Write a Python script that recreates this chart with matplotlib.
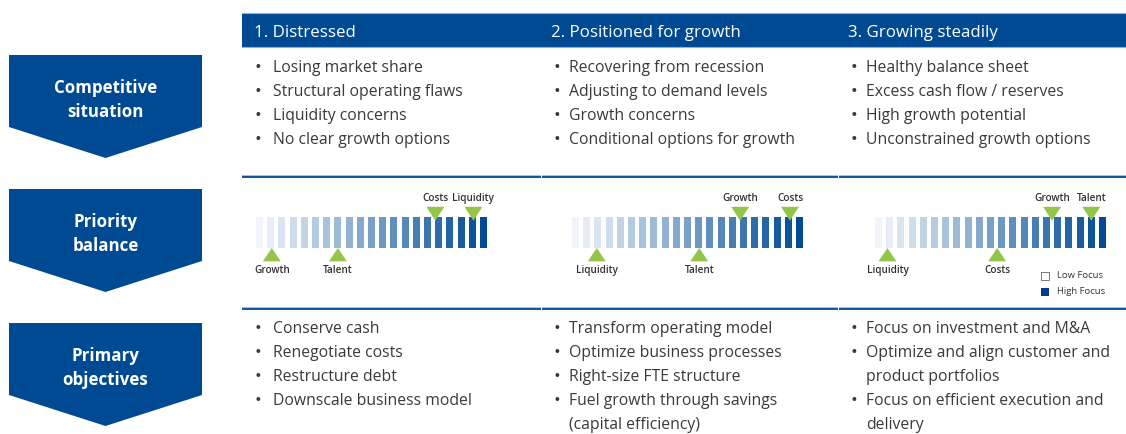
import matplotlib
matplotlib.use("Agg")
import matplotlib.pyplot as plt
from matplotlib.patches import Polygon, Rectangle
import numpy as np

# ---------------- data ----------------
stages = ["1. Distressed", "2. Positioned for growth", "3. Growing steadily"]
row_labels = ["Competitive\nsituation", "Priority\nbalance", "Primary\nobjectives"]

competitive = [
    ["Losing market share", "Structural operating flaws", "Liquidity concerns", "No clear growth options"],
    ["Recovering from recession", "Adjusting to demand levels", "Growth concerns", "Conditional options for growth"],
    ["Healthy balance sheet", "Excess cash flow / reserves", "High growth potential", "Unconstrained growth options"],
]
# (text, has_bullet)
objectives = [
    [("Conserve cash", True), ("Renegotiate costs", True), ("Restructure debt", True), ("Downscale business model", True)],
    [("Transform operating model", True), ("Optimize business processes", True), ("Right-size FTE structure", True),
     ("Fuel growth through savings", True), ("(capital efficiency)", False)],
    [("Focus on investment and M&A", True), ("Optimize and align customer and", True), ("product portfolios", False),
     ("Focus on efficient execution and", True), ("delivery", False)],
]

n_bars = 21
bar_levels = list(range(n_bars))            # focus scale positions 0 (low) .. 20 (high)
bar_heights = [1] * n_bars

# priority markers per stage: name -> position on focus scale
priorities = [
    {"Growth": 1.1, "Talent": 7.0, "Costs": 15.7, "Liquidity": 19.1},
    {"Liquidity": 1.9, "Talent": 11.05, "Growth": 14.7, "Costs": 19.15},
    {"Liquidity": 0.8, "Costs": 10.6, "Growth": 15.5, "Talent": 19.0},
]
above = [
    {"Costs", "Liquidity"},
    {"Growth", "Costs"},
    {"Growth", "Talent"},
]
legend_labels = ["Low Focus", "High Focus"]

# ---------------- style ----------------
W, H = 1126, 434
BLUE = "#004a93"
LIGHT_LINE = "#8fb0d6"
GREEN = "#93c54b"
TXT = "#3a3a3a"
FONT = ["Open Sans", "DejaVu Sans"]

fig = plt.figure(figsize=(W / 100, H / 100), dpi=100)
ax = fig.add_axes([0, 0, 1, 1])
ax.set_xlim(0, W)
ax.set_ylim(H, 0)
ax.axis("off")

# header band
ax.add_patch(Rectangle((242, 13), W - 242, 34, facecolor=BLUE, edgecolor="none"))
ax.plot([242, W], [13.2, 13.2], color=LIGHT_LINE, lw=0.8)
ax.plot([242, W], [46.8, 46.8], color=LIGHT_LINE, lw=0.8)
col_hdr_x = [254, 551, 848]
for x, s in zip(col_hdr_x, stages):
    ax.text(x, 31, s, color="white", fontsize=12.2, family=FONT, va="center_baseline", ha="left")

# chevrons
chev_tops = [55, 189, 323]
for top, lab in zip(chev_tops, row_labels):
    side = top + 72
    tip = top + 103
    ax.add_patch(Polygon([(9, top), (202, top), (202, side), (105.5, tip), (9, side)],
                         closed=True, facecolor=BLUE, edgecolor="none"))
    ax.text(105.5, top + 45, lab, color="white", fontsize=12.2, fontweight="bold", family=FONT,
            ha="center", va="center", linespacing=1.38)

# separator lines
for y in [177, 309]:
    for x0, x1 in [(242, 540.5), (541.5, 837.5), (838.5, W)]:
        ax.plot([x0, x1], [y - 1.2, y - 1.2], color=LIGHT_LINE, lw=1.1, solid_capstyle="butt")
        ax.plot([x0, x1], [y + 0.4, y + 0.4], color=BLUE, lw=1.3, solid_capstyle="butt")

bullet_x = [258, 557, 854]
text_x = [273, 569, 866]

def line(x_b, x_t, y, s, b):
    if b:
        ax.text(x_b, y, "•", color=TXT, fontsize=13, family=FONT, ha="center", va="center_baseline")
    ax.text(x_t, y, s, color=TXT, fontsize=11.3, family=FONT, ha="left", va="center_baseline")

for c, items in enumerate(competitive):
    for i, s in enumerate(items):
        line(bullet_x[c], text_x[c], 66 + 24 * i, s, True)

for c, items in enumerate(objectives):
    for i, (s, b) in enumerate(items):
        line(bullet_x[c], text_x[c], 327 + 24 * i, s, b)

# ---------------- priority balance panels ----------------
light = np.array([242, 246, 251]) / 255
dark = np.array([0, 75, 147]) / 255
bar_colors = [tuple(light + (dark - light) * (k / (n_bars - 1))) for k in range(n_bars)]

centers0 = [259.5, 575.5, 878.5]
step = 11.2
xl = (-2.0, 22.0)
y_base = 248.0
unit = 31.0
ax_top, ax_bot = 188.0, 282.0
for p in range(3):
    left_px = centers0[p] + xl[0] * step
    right_px = centers0[p] + xl[1] * step
    pax = fig.add_axes([left_px / W, 1 - ax_bot / H, (right_px - left_px) / W, (ax_bot - ax_top) / H])
    pax.set_xlim(*xl)
    pax.set_ylim(-(ax_bot - y_base) / unit, (y_base - ax_top) / unit)
    pax.axis("off")
    pax.bar(bar_levels, bar_heights, width=7 / step, color=bar_colors, align="center")
    for name, pos in priorities[p].items():
        hw = 0.8
        if name in above[p]:
            pax.fill([pos - hw, pos + hw, pos], [1.33, 1.33, 0.88], color=GREEN, lw=0, zorder=3)
            pax.text(pos, 1.60, name, ha="center", va="center", fontsize=7.2, fontweight="semibold",
                     color="#333333", family=FONT)
        else:
            pax.fill([pos - hw, pos + hw, pos], [-0.43, -0.43, 0.0], color=GREEN, lw=0, zorder=3)
            pax.text(pos, -0.72, name, ha="center", va="center", fontsize=7.2, fontweight="semibold",
                     color="#333333", family=FONT)

# legend
ax.add_patch(Rectangle((1040.5, 271.5), 8, 8, facecolor="white", edgecolor="#777777", lw=0.7))
ax.add_patch(Rectangle((1040.5, 288), 8, 8, facecolor="#003a96", edgecolor="none"))
ax.text(1057, 276, legend_labels[0], fontsize=6.8, color="#333333", family=FONT, va="center")
ax.text(1057, 292, legend_labels[1], fontsize=6.8, color="#333333", family=FONT, va="center")

fig.savefig("out.png", dpi=100)
